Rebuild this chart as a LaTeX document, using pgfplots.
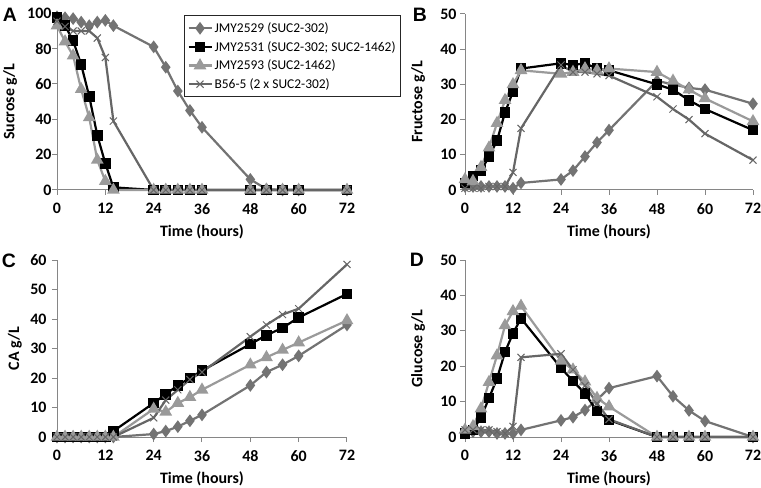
\documentclass[border=0pt]{standalone}
\usepackage{pgfplots}
\pgfplotsset{compat=1.18}
\usepackage{pgfplotstable}
\usepackage{fontspec}
\setmainfont{Carlito}
\newfontfamily\arialf{Liberation Sans}
\definecolor{cA}{HTML}{737373}
\definecolor{cC}{HTML}{9A9A9A}
\definecolor{cD}{HTML}{666666}
\definecolor{axgray}{HTML}{868686}

\pgfplotstableread{
t a b c d
0 98 97.5 93 95.5
2 97.5 93 84 92.5
4 97 84.5 76 90
6 95 71 57 90
8 93 53 41 90
10 95 31 17 86
12 96 15 5 75
14 93 1.5 0 39
24 81 0 0 0
27 69.5 0 0 0
30 56 0 0 0
33 45 0 0 0
36 35.5 0 0 0
48 6 0 0 0
52 0.5 0 0 0
56 0 0 0 0
60 0 0 0 0
72 0 0 0 0
}\sucrose

\pgfplotstableread{
t a b c d
0 1 2 3 0.5
2 1 4 2.5 0.5
4 1 5.5 6.5 0.5
6 1 9.5 12 1
8 1 14 19 1
10 1 22 25.5 1
12 0.5 28 30 5
14 2 34.5 34 17.5
24 3 36 33 35.5
27 5.5 35.5 33.5 33.5
30 9.5 36 34.5 33.5
33 13.5 34.5 34 33
36 17 34 34.5 32.5
48 31 30 33.5 26.5
52 30 28.5 31 23
56 29 25.5 28.5 20
60 28.5 23 26 16
72 24.5 17 19.5 8.5
}\fructose

\pgfplotstableread{
t a b c d
0 0 0 0 0
2 0 0 0 0
4 0 0 0 0
6 0 0 0 0
8 0 0 0 0
10 0 0 0 0
12 0 0 0 0
14 0 2 0 0
24 1 11.5 9.5 6.5
27 2 14.5 8.5 12.5
30 3.5 17.5 11.5 16
33 5.5 20 13.5 19.5
36 7.5 22.5 16 22
48 17.5 31.5 24.5 34
52 22 34.5 27 38
56 24.5 37 29.5 41.5
60 27.5 40.5 32 43.5
72 38 48.5 39.5 58.5
}\citric

\pgfplotstableread{
t a b c d
0 1.5 1 2 2
2 1.5 2 3 2
4 1.5 5.5 8 2
6 1.5 11 15.5 2
8 1 16.5 23 1.5
10 1 24 31.5 1
12 1 29.3 35.5 3
14 2 33.5 37 22.5
24 4.7 19.5 21.5 23.5
27 5.6 15.8 19 19
30 7.6 12.3 15.6 14.5
33 10.5 7.3 11 9.5
36 13.8 4.8 8.6 5
48 17.2 0 0 0
52 11.5 0 0 0
56 7.5 0 0 0
60 4.5 0 0 0
72 0 0 0 0
}\glucose

\pgfplotsset{
  panel/.style={
    scale only axis, width=290bp, height=177bp,
    xmin=0, xmax=72, xtick={0,12,...,72}, ymin=0,
    axis x line*=bottom, axis y line*=left,
    axis line style={axgray, line width=1bp, -},
    tick align=outside, tick style={axgray, line width=1bp},
    major tick length=5bp,
    /pgf/number format/assume math mode=true,
    ticklabel style={font=\fontsize{16}{16}\selectfont\bfseries},
    xticklabel style={yshift=-5bp},
    label style={font=\fontsize{16}{19}\selectfont\bfseries},
    xlabel={Time (hours)},
    xlabel style={at={(axis description cs:0.5,-0.237)}, anchor=center},
    clip=false,
  },
  s1/.style={cA, line width=2.2bp, mark=diamond*, mark size=4.6bp, mark options={solid}},
  s2/.style={black, line width=2.2bp, mark=square*, mark size=4.2bp},
  s3/.style={cC, line width=2.2bp, mark=triangle*, mark size=5.2bp},
  s4/.style={cD, line width=2.2bp, mark=x, mark size=5bp, mark options={line width=1bp}},
}

\begin{document}
\begin{tikzpicture}
\useasboundingbox (0,0) rectangle (761bp,488bp);

% A
\begin{axis}[panel, at={(57bp,298bp)}, anchor=south west, width=290bp, height=176.7bp,
  ymax=100, ytick={0,20,...,100}, ylabel={Sucrose g/L},
  yticklabel style={xshift=3bp},
  ylabel style={at={(axis description cs:-0.162,0.5)}, anchor=center},
  legend style={at={(axis description cs:0.438,0.525)}, anchor=south west,
    draw=black!85, line width=0.8bp, inner xsep=3bp, inner ysep=5bp,
    font=\fontsize{13.5}{15}\selectfont, row sep=3.3bp},
  legend cell align=left,
  legend image code/.code={\draw[#1, mark repeat=2, mark phase=2] plot coordinates {(0bp,0bp) (11.5bp,0bp) (23bp,0bp)};},
]
\addplot[s1] table[x=t,y=a] {\sucrose};
\addplot[s2] table[x=t,y=b] {\sucrose};
\addplot[s3] table[x=t,y=c] {\sucrose};
\addplot[s4] table[x=t,y=d] {\sucrose};
\legend{JMY2529 (SUC2-302), JMY2531 (SUC2-302; SUC2-1462), JMY2593 (SUC2-1462), B56-5 (2 x SUC2-302)}
\end{axis}

% B
\begin{axis}[panel, at={(465bp,298bp)}, anchor=south west, width=288bp, height=176bp,
  ymax=50, ytick={0,10,...,50}, ylabel={Fructose g/L},
  ylabel style={at={(axis description cs:-0.163,0.5)}, anchor=center},
]
\addplot[s1] table[x=t,y=a] {\fructose};
\addplot[s2] table[x=t,y=b] {\fructose};
\addplot[s3] table[x=t,y=c] {\fructose};
\addplot[s4] table[x=t,y=d] {\fructose};
\end{axis}

% C
\begin{axis}[panel, at={(57bp,51bp)}, anchor=south west, width=290bp, height=177bp,
  ymax=60, ytick={0,10,...,60}, ylabel={CA g/L},
  yticklabel style={xshift=-2bp},
  ylabel style={at={(axis description cs:-0.145,0.5)}, anchor=center},
]
\addplot[s1] table[x=t,y=a] {\citric};
\addplot[s2] table[x=t,y=b] {\citric};
\addplot[s3] table[x=t,y=c] {\citric};
\addplot[s4] table[x=t,y=d] {\citric};
\end{axis}

% D
\begin{axis}[panel, at={(465bp,51bp)}, anchor=south west, width=288bp, height=177bp,
  ymax=50, ytick={0,10,...,50}, ylabel={Glucose g/L},
  ylabel style={at={(axis description cs:-0.163,0.5)}, anchor=center},
]
\addplot[s1] table[x=t,y=a] {\glucose};
\addplot[s2] table[x=t,y=b] {\glucose};
\addplot[s3] table[x=t,y=c] {\glucose};
\addplot[s4] table[x=t,y=d] {\glucose};
\end{axis}

\node[font=\arialf\bfseries\fontsize{19.5}{20}\selectfont] at (10bp,473.5bp) {A};
\node[font=\arialf\bfseries\fontsize{19.5}{20}\selectfont] at (420bp,473bp) {B};
\node[font=\arialf\bfseries\fontsize{19.5}{20}\selectfont] at (9bp,227bp) {C};
\node[font=\arialf\bfseries\fontsize{19.5}{20}\selectfont] at (417bp,228bp) {D};
\end{tikzpicture}
\end{document}
